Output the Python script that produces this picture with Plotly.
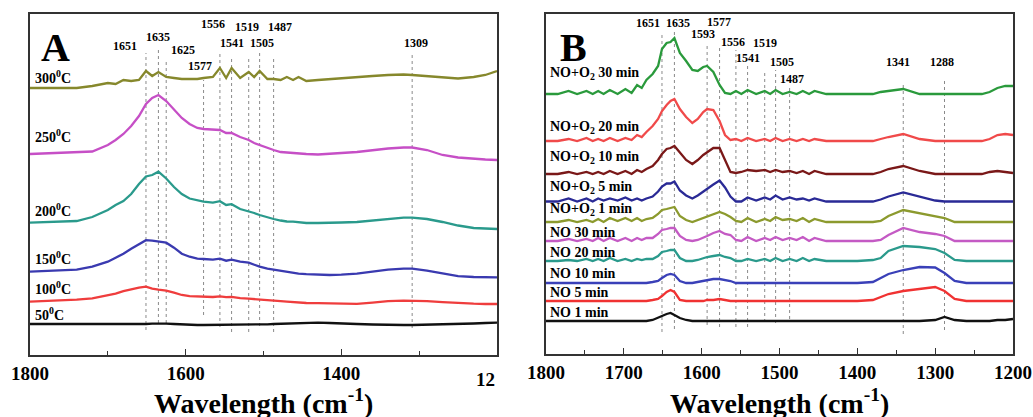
import plotly.graph_objects as go

# ---------------- Panel A: spectra vs. temperature ----------------
wn_a = [1800, 1780, 1760, 1740, 1720, 1700, 1690, 1680, 1670, 1660, 1651, 1643,
        1635, 1625, 1615, 1605, 1595, 1585, 1577, 1565, 1556, 1548, 1541, 1530,
        1519, 1512, 1505, 1495, 1487, 1478, 1470, 1462, 1455, 1445, 1430, 1415,
        1400, 1380, 1360, 1340, 1320, 1309, 1290, 1270, 1250, 1230, 1215, 1200]

temps_a = ["300", "250", "200", "150", "100", "50"]

a_300 = [0, 0, 0.5, 0, 2, 5, 4, 8, 7, 8, 17, 12, 16, 11, 10, 9, 9, 9, 10, 11, 20, 10,
         20, 10, 16, 11, 17, 9, 9, 8, 11, 8, 11, 7, 8, 9, 10, 11, 12, 13, 13.5, 13,
         12, 10.5, 9.5, 11, 13, 17]
a_250 = [0, 0.5, 1, 2, 2.5, 9, 14, 20, 28, 38, 50, 56, 59, 53, 44, 36, 30, 26, 25,
         24, 24, 21, 21, 17, 14, 11, 9, 6, 4, 2, 1.5, 0.5, 0, 0, -0.5, 0, 1, 2, 4,
         5.5, 6.5, 6.5, 4, -1, -3.5, -5, -5.5, -6]
a_200 = [0, 0.7, 0.7, 1.7, 5.7, 12.7, 17.7, 21.7, 28.7, 38.7, 46.2, 47.7, 51, 44.2,
         35.7, 28.7, 24.2, 22.2, 21, 20, 21.5, 17.7, 18.5, 13.7, 11.7, 9.7, 7.7, 5.2,
         3.7, 2.2, 1.2, 1, 0.2, -0.3, -0.3, -0.3, 0.2, 0.7, 2.2, 4.2, 5, 5, 3.7, 0.7,
         -2.8, -5.3, -6, -6.3]
a_150 = [0, 0.5, 1, 2, 5, 10, 14, 18, 23, 27.5, 31.5, 31, 30, 29, 24, 18, 15, 13,
         12.7, 12, 13, 11, 12, 10, 9, 7, 5, 3, 2, 0.5, -0.5, -1, -2, -2.5, -3, -3.3,
         -3, -2, 0, 2, 3, 3, 1, -2, -4.5, -5.3, -5.5, -5.7]
a_100 = [0, 0.5, 1, 2, 3.4, 6, 8, 10.5, 12.5, 14, 15, 13, 12, 11, 9, 6.7, 5.5, 5, 5,
         4.7, 5.3, 4.5, 4.8, 3.5, 3, 2.5, 1.7, 1.5, 1, 0.5, 0, -0.5, -1, -1.3, -1.5,
         -1.7, -2, -2.2, -1, 0.5, 1, 1, 0.5, -0.5, -1.5, -2, -2.3, -2.3]
a_50 = [0, 0, 0, 0, -0.3, -0.5, -0.5, -0.5, -0.5, -0.5, 0, 0.3, 0.5, 0.3, 0, -0.5,
        -0.8, -1, -1, -1, -1, -1, -1, -0.8, -0.6, -0.5, -0.5, -0.3, 0, 0.3, 0.5, 0.8,
        1, 1, 1.3, 1, 0.8, 0, -0.5, -1, -1, -1, -0.8, -0.5, 0, 0.5, 1, 1.3]
spectra_a = [a_300, a_250, a_200, a_150, a_100, a_50]

peaks_a = [1651, 1635, 1625, 1577, 1556, 1541, 1519, 1505, 1487, 1309]

# ---------------- Panel B: spectra vs. exposure time ----------------
wn_b = [1800, 1785, 1771, 1760, 1748, 1740, 1733, 1726, 1718, 1708, 1698, 1690,
        1683, 1677, 1671, 1663, 1656, 1651, 1645, 1640, 1635, 1628, 1620, 1612,
        1605, 1598, 1593, 1585, 1577, 1570, 1563, 1556, 1549, 1541, 1530, 1519,
        1512, 1505, 1496, 1487, 1478, 1470, 1462, 1455, 1440, 1420, 1400, 1380,
        1370, 1360, 1341, 1320, 1300, 1288, 1275, 1260, 1240, 1230, 1220, 1210, 1200]

names_b = ["NO+O<sub>2</sub> 30 min", "NO+O<sub>2</sub> 20 min", "NO+O<sub>2</sub> 10 min",
           "NO+O<sub>2</sub> 5 min", "NO+O<sub>2</sub> 1 min", "NO 30 min", "NO 20 min",
           "NO 10 min", "NO 5 min", "NO 1 min"]

b_nox30 = [0, 0, 3, 0, 3, 0, 3, 0, 4, 0, 5, 1, 9, 6, 14, 20, 28, 45, 51, 52, 56, 41,
           33, 24, 23, 27, 28, 22, 9, 1, 0, 3, 0, 4, 0, 3, 0, 4, 0, 2, 0, 3, 0, 3, 0,
           0, 0, 0, 2, 3, 5, 0, 0, 0, 0, 0, 0, 2, 6, 8, 8]
b_nox20 = [0, 0, 2, 0, 3, 0, 2, 0, 3, 0, 3, 1, 6, 4, 9, 15, 22, 30, 36, 40, 42, 32,
           24, 18, 22, 29, 32, 31, 20, 6, 1, 2, 0, 3, 0, 2, 0, 3, 0, 2, 0, 2, 0, 2, 0,
           0, 0, 0, 2, 4, 7, 2, 0, 0, 0, 0, 0, 2, 6, 7, 6]
b_nox10 = [0, 0, 2, 0, 2, 0, 2, 0, 3, 0, 3, 0, 4, 2, 5, 8, 14, 20, 25, 26, 28, 21,
           14, 10, 14, 19, 22, 26, 26, 14, 2, 1, 2, 4, 3, 4, 2, 4, 2, 3, 1, 3, 0, 3, 0,
           0, 0, 0, 2, 5, 8, 3, 0, 0, 0, 0, 0, 2, 3, 2, 1]
b_nox5 = [0, 0, 3, 0, 3, 0, 3, 1, 3, 1, 4, 1, 3, 1, 3, 5, 10, 15, 18, 18, 20, 11, 6,
          3, 6, 10, 13, 17, 21, 14, 5, 0, 0, 4, 1, 4, 2, 6, 2, 4, 2, 3, 1, 3, 0, 0, 0,
          0, 2, 5, 9, 5, 1, 0, 0, 0, 0, 0, 0, 0, 0]
b_nox1 = [0, 0, 2, 0, 2, 0, 3, 0, 4, 1, 4, 1, 4, 1, 3, 4, 8, 12, 13, 14, 15, 6, 2, 0,
          2, 4, 6, 8, 10, 8, 5, 1, 0, 4, 0, 3, 1, 5, 2, 3, 1, 4, 0, 3, 0, 0, 0, 0, 1,
          6, 12, 9, 6, 4, 0, 0, 0, 0, 0, 0, 0]
b_no30 = [0, 0, 2, 0, 2, 0, 3, 0, 3, 0, 3, 0, 3, 1, 3, 3, 7, 11, 12, 13, 13, 5, 1, 0,
          1, 3, 5, 8, 10, 7, 6, 1, 0, 4, 0, 3, 1, 4, 1, 3, 1, 4, 0, 3, 0, 0, 0, 0, 1,
          6, 13, 9, 7, 5, 0, 0, 0, 0, 0, 0, 0]
b_no20 = [0, 0, 1, 0, 2, 0, 2, 0, 3, 0, 2, 0, 2, 1, 2, 2, 5, 9, 10, 11, 11, 3, 0, 0,
          1, 3, 4, 5, 6, 4, 3, 0, 0, 2, 0, 2, 0, 3, 0, 2, 0, 3, 0, 2, 0, 0, 0, 1, 3,
          10, 15, 14, 12, 8, 1, 0, 0, 0, 0, 0, 0]
b_no10 = [0, 0, 0, 0, 0, 0, 0, 0, 0, 0, 0, 0, 0, 0, 0, 1, 2, 5, 8, 9, 8, 2, 0, 0, 1,
          2, 3, 4, 4, 3, 2, 0, 0, 0, 0, 0, 0, 0, 0, 0, 0, 0, 0, 0, 0, 0, 0, 1, 5, 9,
          13, 16, 15.5, 10, 2, 0, 0, 0, 0, 0, 0]
b_no5 = [0, 0, 0, 0, 0, 0, 0, 0, 0, 0, 0, 0, 0, 0, 0, 1, 2, 5, 9, 11, 9, 1, 0, 0, 0,
         0, 1, 1, 2, 1, 0, 0, 0, 0, 0, 0, 0, 0, 0, 0, 0, 0, 0, 0, 0, 0, 0, 1, 4, 7,
         10, 12, 14, 10, 2, 0, 0, 0, 0, 0, 0]
b_no1 = [0, 0, 0, 0, 0, 0, 0, 0, 0, 0, 0, 0, 0, 0, 0, 1, 3, 5, 7, 8, 6, 3, 1, 0, 0,
         0, 0, 0, 0, 0, 0, 0, 0, 0, 0, 0, 0, 0, 0, 0, 0, 0, 0, 0, 0, 0, 0, 0, 0, 0,
         0, 0, 1, 4, 1, 0, 0, 0, 1, 1, 2]
spectra_b = [b_nox30, b_nox20, b_nox10, b_nox5, b_nox1,
             b_no30, b_no20, b_no10, b_no5, b_no1]

peaks_b = [1651, 1635, 1593, 1577, 1556, 1541, 1519, 1505, 1487, 1341, 1288]

# ---------------- stacking and styling ----------------
offsets_a = [267, 201, 132.3, 83.3, 53.3, 31]
colors_a = ["#86882c", "#c64fc6", "#2a9a8c", "#3a3ab0", "#ef3d3d", "#111111"]
offsets_b = [260, 213, 180, 152.5, 132, 113, 93, 71, 53, 33]
colors_b = ["#2a9a3c", "#f04a4a", "#7a1818", "#2a2a96", "#8c9a2e",
            "#c45ac4", "#2a9a8c", "#3a40b8", "#f03232", "#111111"]

SERIF = "Liberation Serif"
W, H = 1033, 417

fig = go.Figure()

for prof, off, col in zip(spectra_a, offsets_a, colors_a):
    fig.add_trace(go.Scatter(x=wn_a, y=[off + v for v in prof], xaxis="x", yaxis="y",
                             mode="lines", line=dict(color=col, width=2.3),
                             showlegend=False, hoverinfo="skip"))
for prof, off, col in zip(spectra_b, offsets_b, colors_b):
    fig.add_trace(go.Scatter(x=wn_b, y=[off + v for v in prof], xaxis="x2", yaxis="y2",
                             mode="lines", line=dict(color=col, width=2.3),
                             showlegend=False, hoverinfo="skip"))

shapes = []
annotations = []

# dotted peak markers (top, bottom in axis units)
lines_a = [(302, 25), (305, 32), (293, 32), (275, 40), (302, 28),
           (298, 23), (299, 23), (302, 29), (298, 23), (302, 27)]
for wn, (top, bot) in zip(peaks_a, lines_a):
    shapes.append(dict(type="line", xref="x", yref="y", x0=wn, x1=wn, y0=bot, y1=top,
                       line=dict(color="#8a8a8a", width=1, dash="dot"), layer="below"))
lines_b = [(322, 22), (323, 25), (309, 29), (307, 27), (304, 27), (289, 27),
           (284, 32), (284, 31), (267, 35), (272, 20), (276, 24)]
for wn, (top, bot) in zip(peaks_b, lines_b):
    shapes.append(dict(type="line", xref="x2", yref="y2", x0=wn, x1=wn, y0=bot, y1=top,
                       line=dict(color="#8a8a8a", width=1, dash="dot"), layer="below"))

# peak labels
pos_a = [(1678, 309), (1635.5, 318), (1603, 305), (1582, 289), (1565, 331),
         (1540.5, 312), (1521, 328), (1502, 312), (1479, 328), (1304, 312)]
for wn, (x, y) in zip(peaks_a, pos_a):
    annotations.append(dict(xref="x", yref="y", x=x, y=y, text=f"<b>{wn}</b>",
                            showarrow=False, font=dict(family=SERIF, size=12, color="black")))
pos_b = [(1668.6, 331), (1630, 331), (1598, 320), (1577.3, 332), (1559.3, 312),
         (1541, 296), (1518.6, 311), (1497, 292), (1484.3, 275), (1347.4, 292), (1291.6, 292)]
for wn, (x, y) in zip(peaks_b, pos_b):
    annotations.append(dict(xref="x2", yref="y2", x=x, y=y, text=f"<b>{wn}</b>",
                            showarrow=False, font=dict(family=SERIF, size=12, color="black")))

# curve labels
label_y_a = [278, 219, 145, 97, 67, 41]
for t, y in zip(temps_a, label_y_a):
    annotations.append(dict(xref="paper", yref="y", x=33 / W, y=y, xanchor="left",
                            yanchor="middle", text=f"<b>{t}<sup>0</sup>C</b>",
                            showarrow=False, font=dict(family=SERIF, size=14, color="black")))
label_y_b = [281, 227, 197, 167, 145, 122, 102, 81, 62, 42]
for t, y in zip(names_b, label_y_b):
    annotations.append(dict(xref="paper", yref="y2", x=548 / W, y=y, xanchor="left",
                            yanchor="middle", text=f"<b>{t}</b>",
                            showarrow=False, font=dict(family=SERIF, size=14, color="black")))

# panel letters
for txt, xp in (("A", 39), ("B", 558)):
    annotations.append(dict(xref="paper", yref="paper", x=xp / W, y=1 - 23 / H,
                            xanchor="left", yanchor="top", text=f"<b>{txt}</b>",
                            showarrow=False, font=dict(family=SERIF, size=40, color="black")))

# axis titles
for xc in (263.5, 779.5):
    annotations.append(dict(xref="paper", yref="paper", x=xc / W, y=1 - 401 / H,
                            xanchor="center", yanchor="middle",
                            text="<b>Wavelength (cm<sup>-1</sup>)</b>",
                            showarrow=False, font=dict(family=SERIF, size=28, color="black")))

# truncated last tick label of panel A
annotations.append(dict(xref="x", yref="paper", x=1200, y=1 - 379 / H, xanchor="right",
                        yanchor="middle", text="<b>12</b>", showarrow=False,
                        font=dict(family=SERIF, size=19, color="black")))

axis_common = dict(showgrid=False, zeroline=False, showline=True, linecolor="#333333",
                   linewidth=1.5, mirror=True, automargin=False)

fig.update_layout(
    width=W, height=H, margin=dict(l=0, r=0, t=0, b=0, autoexpand=False),
    paper_bgcolor="white", plot_bgcolor="white",
    xaxis=dict(domain=[30 / W, 497 / W], range=[1800, 1200], anchor="y",
               tickvals=[1800, 1600, 1400], ticktext=["<b>1800</b>", "<b>1600</b>", "<b>1400</b>"],
               ticks="inside", ticklen=6, tickcolor="#333333",
               minor=dict(tickvals=[1700, 1500, 1300], ticks="inside", ticklen=4, tickcolor="#333333"),
               tickfont=dict(family=SERIF, size=19, color="black"), **axis_common),
    yaxis=dict(domain=[1 - 355 / H, 1 - 14 / H], range=[0, 341], anchor="x",
               showticklabels=False, ticks="", **axis_common),
    xaxis2=dict(domain=[546 / W, 1013 / W], range=[1800, 1200], anchor="y2",
                tickvals=[1800, 1700, 1600, 1500, 1400, 1300, 1200],
                ticktext=[f"<b>{v}</b>" for v in (1800, 1700, 1600, 1500, 1400, 1300, 1200)],
                ticks="inside", ticklen=6, tickcolor="#333333",
                minor=dict(tickvals=[1750, 1650, 1550, 1450, 1350, 1250], ticks="inside",
                           ticklen=4, tickcolor="#333333"),
                tickfont=dict(family=SERIF, size=19, color="black"), **axis_common),
    yaxis2=dict(domain=[1 - 354 / H, 1 - 14 / H], range=[0, 340], anchor="x2",
                showticklabels=False, ticks="", **axis_common),
    shapes=shapes, annotations=annotations,
)

fig.write_html("out.html")
